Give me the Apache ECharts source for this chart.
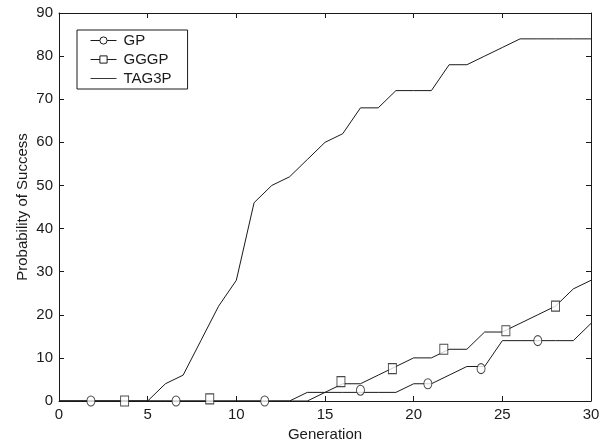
<!DOCTYPE html>
<html style="height: 100%">
    <head>
        <meta charset="utf-8">
        <script type="text/javascript" src="https://cdn.jsdelivr.net/npm/echarts@6/dist/echarts.min.js"></script>
    </head>
    <body style="height: 100%; margin: 0; background: #fff">
        <div id="main" style="width: 607px; height: 447px"></div>
        <script type="text/javascript">
            // generation 0..30
            var generations = [];
            for (let g = 0; g <= 30; g++) generations.push(g);

            var gp    = [0,0,0,0,0,0,0,0,0,0,0,0,0,0,2,2,2,2,2,2,4,4,6,8,8,14,14,14,14,14,18];
            var gggp  = [0,0,0,0,0,0,0,0,0,0,0,0,0,0,0,2,4,4,6,8,10,10,12,12,16,16,18,20,22,26,28];
            var tag3p = [0,0,0,0,0,0,4,6,14,22,28,46,50,52,56,60,62,68,68,72,72,72,78,78,80,82,84,84,84,84,84];

            // marker positions as drawn in the figure
            var gpMarkX   = [1.8, 6.6, 11.6, 17.0, 20.8, 23.8, 27.0];
            var gpMarkY   = [0, 0, 0, 2.5, 4, 7.5, 14];
            var gggpMarkX = [3.7, 8.5, 15.9, 18.8, 21.7, 25.2, 28.0];
            var gggpMarkY = [0, 0.5, 4.5, 7.5, 12, 16.3, 22];

            var yTicks = [0, 10, 20, 30, 40, 50, 60, 70, 80, 90];

            function pairs(xs, ys) {
                return xs.map(function (x, i) { return [x, ys[i]]; });
            }

            var font = 'Liberation Sans, Arial, sans-serif';
            var ink = '#1a1a1a';

            var axisBase = {
                type: 'value',
                splitLine: { show: false },
                axisLine: { onZero: false, lineStyle: { color: ink, width: 1 } },
                axisTick: { inside: true, length: 5, lineStyle: { color: ink } }
            };
            var labelStyle = { fontFamily: font, fontSize: 15, color: ink, margin: 6 };

            var myChart = echarts.init(document.getElementById('main'));
            myChart.setOption({
                backgroundColor: '#fff',
                animation: false,
                grid: { left: 59, right: 16, top: 13, bottom: 46 },
                legend: {
                    orient: 'vertical',
                    left: 77,
                    top: 30,
                    padding: [3, 16, 3, 13],
                    itemGap: 4,
                    itemWidth: 26,
                    itemHeight: 9,
                    borderColor: ink,
                    borderWidth: 1,
                    borderRadius: 0,
                    backgroundColor: '#fff',
                    lineStyle: { width: 1 },
                    itemStyle: { borderWidth: 1 },
                    textStyle: { fontFamily: font, fontSize: 15, lineHeight: 15, color: ink, padding: [0, 0, 0, 2] },
                    data: [
                        { name: 'GP' },
                        { name: 'GGGP' },
                        { name: 'TAG3P', icon: 'path://M0,0h30v1h-30z' }
                    ]
                },
                xAxis: [
                    Object.assign({}, axisBase, {
                        position: 'bottom', min: 0, max: 30, interval: 5,
                        name: 'Generation', nameLocation: 'middle', nameGap: 26,
                        nameTextStyle: { fontFamily: font, fontSize: 15, color: ink },
                        axisLabel: labelStyle
                    }),
                    Object.assign({}, axisBase, {
                        position: 'top', min: 0, max: 30, interval: 5,
                        axisLabel: { show: false }
                    })
                ],
                yAxis: [
                    Object.assign({}, axisBase, {
                        position: 'left', min: yTicks[0], max: yTicks[yTicks.length - 1], interval: 10,
                        name: 'Probability of Success', nameLocation: 'middle', nameGap: 29,
                        nameMoveOverlap: false,
                        nameTextStyle: { fontFamily: font, fontSize: 15, color: ink },
                        axisLabel: labelStyle
                    }),
                    Object.assign({}, axisBase, {
                        position: 'right', min: 0, max: 90, interval: 10,
                        axisLabel: { show: false }
                    })
                ],
                series: [
                    {
                        name: 'GP', type: 'line', symbol: 'circle', symbolSize: 8, showSymbol: false,
                        data: pairs(generations, gp),
                        lineStyle: { color: ink, width: 1 },
                        itemStyle: { color: '#fff', borderColor: ink, borderWidth: 1 }
                    },
                    {
                        name: 'GGGP', type: 'line', symbol: 'rect', symbolSize: 8, showSymbol: false,
                        data: pairs(generations, gggp),
                        lineStyle: { color: ink, width: 1 },
                        itemStyle: { color: '#fff', borderColor: ink, borderWidth: 1 }
                    },
                    {
                        name: 'TAG3P', type: 'line', symbol: 'none',
                        data: pairs(generations, tag3p),
                        lineStyle: { color: ink, width: 1 }, itemStyle: { color: ink }
                    },
                    {
                        name: 'GP markers', type: 'scatter', symbol: 'circle', symbolSize: [8, 10],
                        data: pairs(gpMarkX, gpMarkY),
                        itemStyle: { color: '#fff', borderColor: ink, borderWidth: 1 }, z: 3
                    },
                    {
                        name: 'GGGP markers', type: 'scatter', symbol: 'rect', symbolSize: [8, 10],
                        data: pairs(gggpMarkX, gggpMarkY),
                        itemStyle: { color: '#fff', borderColor: ink, borderWidth: 1 }, z: 3
                    }
                ]
            });
        </script>
    </body>
</html>
